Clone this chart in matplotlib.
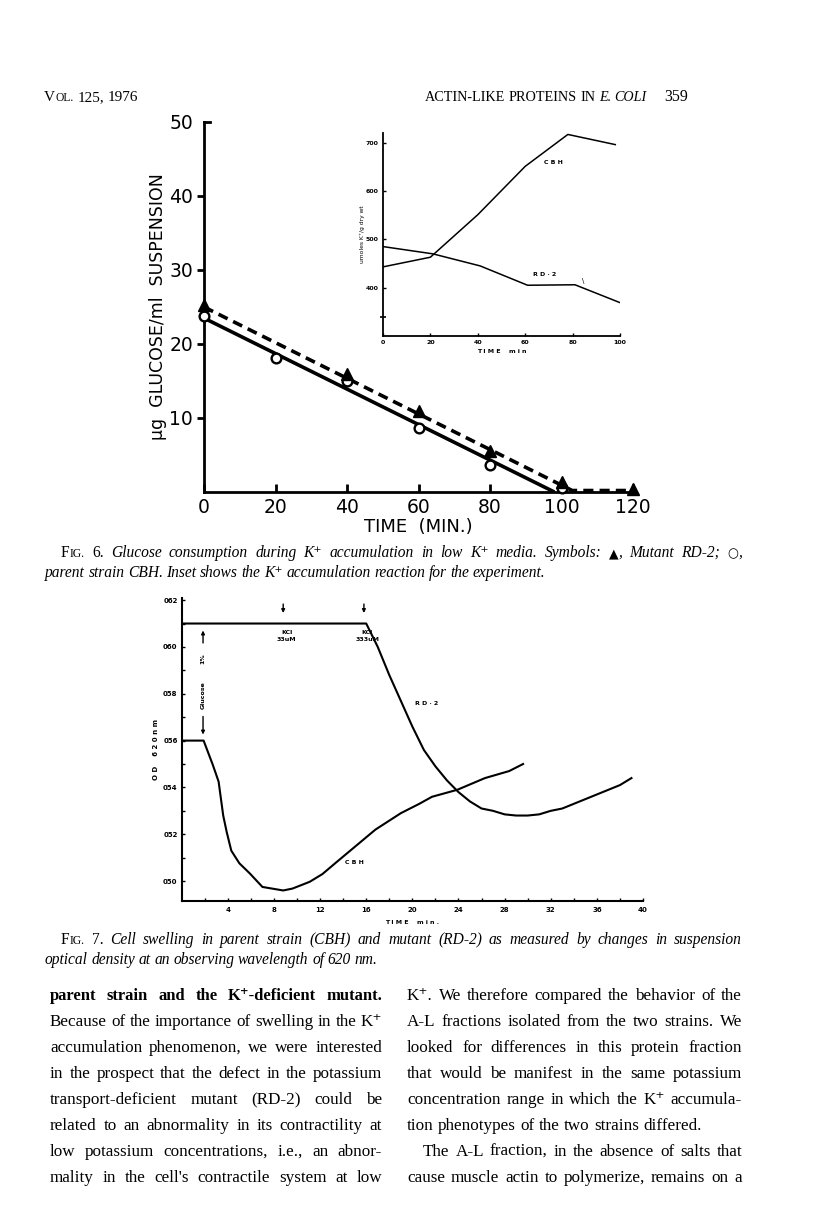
import matplotlib

matplotlib.use("Agg")
import matplotlib.pyplot as plt

W, H = 816, 1229

# Fig. 6: glucose left in suspension (ug/ml) vs time (min)
glc_time_rd2 = [0, 40, 60, 80, 100, 120]
glc_rd2 = [25.3, 16.0, 10.9, 5.5, 1.4, 0.4]
glc_time_cbh = [0, 20, 40, 60, 80, 100]
glc_cbh = [23.8, 18.1, 15.0, 8.7, 3.6, 0.5]
fit_time_rd2 = [0, 103, 120]
fit_rd2 = [25.0, 0.2, 0.2]
fit_time_cbh = [0, 98]
fit_cbh = [23.5, 0.0]

# Fig. 6 inset: K+ accumulation (umoles K+/g dry wt)
ins_time_cbh = [0, 20, 40, 60, 78, 98]
ins_cbh = [443, 463, 551, 651, 717, 696]
ins_time_rd2 = [0, 21, 41, 61, 81, 100]
ins_rd2 = [485, 470, 445, 405, 406, 369]

# Fig. 7: OD 620 nm vs time (min)
od_time_rd2 = [0, 16, 17, 18, 19, 20, 21, 22, 23, 24, 25, 26, 27, 28, 29, 30,
               31, 32, 33, 34, 35, 36, 37, 38, 39]
od_rd2 = [0.0610, 0.0610, 0.0600, 0.0588, 0.0577, 0.0566, 0.0556, 0.0549,
          0.0543, 0.0538, 0.0534, 0.0531, 0.0530, 0.05285, 0.0528, 0.0528,
          0.05285, 0.0530, 0.0531, 0.0533, 0.0535, 0.0537, 0.0539, 0.0541,
          0.0544]
od_time_cbh = [0, 1.9, 2.7, 3.2, 3.6, 3.9, 4.3, 5.0, 5.9, 7.0, 8.8, 9.6, 11.1,
               12.2, 13.4, 15.1, 16.8, 19.0, 20.6, 21.7, 23.9, 26.3, 28.4, 29.6]
od_cbh = [0.0560, 0.0560, 0.05496, 0.05425, 0.0528, 0.0521, 0.0513, 0.05076,
          0.05033, 0.04975, 0.0496, 0.04968, 0.04997, 0.0503, 0.0508, 0.0515,
          0.0522, 0.0529, 0.0533, 0.0536, 0.0539, 0.0544, 0.0547, 0.0550]
od_ticks = [0.050, 0.052, 0.054, 0.056, 0.058, 0.060, 0.062]
od_ticklabels = ["050", "052", "054", "056", "058", "060", "062"]
kcl_time = [8.8, 15.8]
kcl_labels = ["KCl\n33uM", "KCl\n333uM"]
glucose_time = 1.85

SERIF = ["Liberation Serif", "DejaVu Serif", "DejaVu Sans"]
SANS = ["DejaVu Sans"]

fig = plt.figure(figsize=(W / 100, H / 100), dpi=100)
renderer = fig.canvas.get_renderer()


def rect(left, top, right, bottom):
    return [left / W, 1 - bottom / H, (right - left) / W, (bottom - top) / H]


def put_line(words, x0, y, x1=None, gap=None):
    """Place words (lists of (text, style) runs) on one line; justify to x1 if given."""
    placed = []
    for word in words:
        runs = []
        for s, kw in word:
            t = fig.text(0, 1 - y / H, s, va="baseline", ha="left", **kw)
            runs.append((t, t.get_window_extent(renderer).width))
        placed.append(runs)
    widths = [sum(w for _, w in runs) for runs in placed]
    if x1 is not None and len(words) > 1:
        gap = (x1 - x0 - sum(widths)) / (len(words) - 1)
    x = x0
    for runs, wd in zip(placed, widths):
        xx = x
        for t, w in runs:
            t.set_x(xx / W)
            xx += w
        x += wd + gap
    return x - gap


def words_of(text, kw):
    return [[(w, kw)] for w in text.split()]


# ---------------- page header ----------------
hdr = dict(family=SERIF, fontsize=11)
hdr_sc = dict(family=SERIF, fontsize=8.3)
hdr_r = dict(family=SERIF, fontsize=10.2)
hdr_it = dict(family=SERIF, fontsize=10.2, style="italic")
put_line([[("V", hdr), ("OL.", hdr_sc)], [("125,", hdr)], [("1976", hdr)]], 44, 101, gap=4)
put_line(words_of("ACTIN-LIKE PROTEINS IN", hdr_r) + words_of("E. COLI", hdr_it), 425, 101, gap=3.5)
fig.text(688 / W, 1 - 101 / H, "359", family=SERIF, fontsize=11.5, ha="right", va="baseline")

# ---------------- Fig. 6 ----------------
ax = fig.add_axes(rect(204, 122, 633, 492))
ax.plot(fit_time_cbh, fit_cbh, color="black", lw=2.6, solid_capstyle="butt")
ax.plot(fit_time_rd2, fit_rd2, color="black", lw=2.6, ls=(0, (2.8, 1.7)))
ax.plot(glc_time_cbh, glc_cbh, ls="none", marker="o", ms=7, mfc="white",
        mec="black", mew=1.7, clip_on=False, zorder=4)
ax.plot(glc_time_rd2, glc_rd2, ls="none", marker="^", ms=8.5, color="black",
        clip_on=False, zorder=4)
ax.set_xlim(0, 120)
ax.set_ylim(0, 50)
for side in ("top", "right"):
    ax.spines[side].set_visible(False)
for side in ("left", "bottom"):
    ax.spines[side].set_linewidth(2.0)
ax.set_xticks(range(0, 121, 20))
ax.set_yticks([10, 20, 30, 40, 50])
ax.tick_params(axis="x", direction="in", length=6, width=2, pad=4, labelsize=13.5)
ax.tick_params(axis="y", direction="out", length=5, width=2, pad=3, labelsize=13.5)
ax.yaxis.get_major_ticks()[-1].tick1line.set_visible(False)
ax.plot([0, 1.6], [50, 50], color="black", lw=2, clip_on=False)
for lab in ax.get_xticklabels() + ax.get_yticklabels():
    lab.set_family(SANS)
ax.set_xlabel("TIME  (MIN.)", fontsize=13, family=SANS, labelpad=1)
ax.set_ylabel("μg  GLUCOSE/ml  SUSPENSION", fontsize=12.5, family=SANS, labelpad=1.5)

# inset
ins = fig.add_axes(rect(383, 133, 620, 336))
ins.plot(ins_time_cbh, ins_cbh, color="black", lw=1.1)
ins.plot(ins_time_rd2, ins_rd2, color="black", lw=1.1)
ins.set_xlim(0, 100)
ins.set_ylim(300, 720)
for side in ("top", "right"):
    ins.spines[side].set_visible(False)
for side in ("left", "bottom"):
    ins.spines[side].set_linewidth(1.3)
ins.set_xticks(range(0, 101, 20))
ins.set_yticks([400, 500, 600, 700])
ins.set_yticks([340], minor=True)
ins.tick_params(which="both", direction="in", length=2.5, width=1, pad=3, labelsize=4.5)
ins.tick_params(axis="y", which="minor", direction="inout", length=5, width=1.2)
for lab in ins.get_xticklabels() + ins.get_yticklabels():
    lab.set_family(SANS)
    lab.set_weight("bold")
ins.set_xlabel("T I M E    m i n", fontsize=4.5, weight="bold", family=SANS, labelpad=3)
ins.set_ylabel("umoles K⁺/g dry wt", fontsize=4.3, family=SANS, labelpad=0.5)
ins.text(72, 660, "C B H", fontsize=4.5, weight="bold", family=SANS, ha="center", va="center")
ins.text(68, 427, "R D · 2", fontsize=4.5, weight="bold", family=SANS, ha="center", va="center")
ins.text(84.5, 414, "\\", fontsize=5, family=SANS, ha="center", va="center")

# caption 6
cap = dict(family=SERIF, fontsize=11.2, style="italic")
cap_rm = dict(family=SERIF, fontsize=11.2)
cap_sc = dict(family=SERIF, fontsize=8.4)
line1 = ([[("F", cap_rm), ("IG.", cap_sc)], [("6.", cap_rm)]]
         + words_of("Glucose consumption during K⁺ accumulation in low K⁺ media. Symbols:", cap)
         + [[("▲", dict(family=SANS, fontsize=9)), (",", cap)]]
         + words_of("Mutant RD-2;", cap)
         + [[("○", dict(family=SANS, fontsize=9)), (",", cap)]])
put_line(line1, 61, 557, x1=742)
put_line(words_of("parent strain CBH. Inset shows the K⁺ accumulation reaction for the experiment.", cap),
         45, 577, gap=3.6)

# ---------------- Fig. 7 ----------------
bx = fig.add_axes(rect(181.7, 598, 643, 901))
bx.plot(od_time_rd2, od_rd2, color="black", lw=1.5)
bx.plot(od_time_cbh, od_cbh, color="black", lw=1.5)
bx.set_xlim(0, 40)
bx.set_ylim(0.04915, 0.06209)
for side in ("top", "right"):
    bx.spines[side].set_visible(False)
for side in ("left", "bottom"):
    bx.spines[side].set_linewidth(1.5)
bx.set_xticks(range(4, 41, 4))
bx.set_xticks(range(2, 40, 4), minor=True)
bx.set_yticks(od_ticks)
bx.set_yticklabels(od_ticklabels)
bx.set_yticks([0.051, 0.053, 0.055, 0.057, 0.059, 0.061], minor=True)
bx.tick_params(which="both", direction="in", length=2.5, width=1, labelsize=5)
bx.tick_params(axis="y", pad=3)
bx.tick_params(axis="x", pad=4)
for lab in bx.get_xticklabels() + bx.get_yticklabels():
    lab.set_family(SANS)
    lab.set_weight("bold")
bx.set_xlabel("T I M E    m i n .", fontsize=4.5, weight="bold", family=SANS, labelpad=5)
bx.set_ylabel("O D    6 2 0 n m", fontsize=5, weight="bold", family=SANS, labelpad=2.5)
for t, lab in zip(kcl_time, kcl_labels):
    bx.annotate("", xy=(t, 0.06133), xytext=(t, 0.06195),
                arrowprops=dict(arrowstyle="-|>", color="black", lw=1, mutation_scale=5))
    bx.text(t + 0.3, 0.06047, lab, fontsize=4.5, weight="bold", family=SANS,
            ha="center", va="center", linespacing=1.3)
bx.annotate("", xy=(glucose_time, 0.06082), xytext=(glucose_time, 0.06005),
            arrowprops=dict(arrowstyle="-|>", color="black", lw=1, mutation_scale=5))
bx.annotate("", xy=(glucose_time, 0.05614), xytext=(glucose_time, 0.05715),
            arrowprops=dict(arrowstyle="-|>", color="black", lw=1, mutation_scale=5))
bx.text(glucose_time, 0.05952, "1%", rotation=90, fontsize=4.5, weight="bold",
        family=SANS, ha="center", va="center")
bx.text(glucose_time, 0.05795, "Glucose", rotation=90, fontsize=4.5, weight="bold",
        family=SANS, ha="center", va="center")
bx.text(21.2, 0.0576, "R D · 2", fontsize=4.5, weight="bold", family=SANS, ha="center", va="center")
bx.text(15.0, 0.0508, "C B H", fontsize=4.5, weight="bold", family=SANS, ha="center", va="center")

# caption 7
line1 = ([[("F", cap_rm), ("IG.", cap_sc)], [("7.", cap_rm)]]
         + words_of("Cell swelling in parent strain (CBH) and mutant (RD-2) as measured by changes in suspension", cap))
put_line(line1, 61, 944, x1=742)
put_line(words_of("optical density at an observing wavelength of 620 nm.", cap), 45, 964, gap=3.6)

# ---------------- body text ----------------
body = dict(family=SERIF, fontsize=12.3)
body_b = dict(family=SERIF, fontsize=12.0, weight="bold")
left_col = [
    "Because of the importance of swelling in the K⁺",
    "accumulation phenomenon, we were interested",
    "in the prospect that the defect in the potassium",
    "transport-deficient mutant (RD-2) could be",
    "related to an abnormality in its contractility at",
    "low potassium concentrations, i.e., an abnor-",
    "mality in the cell's contractile system at low",
]
right_col = [
    "K⁺. We therefore compared the behavior of the",
    "A-L fractions isolated from the two strains. We",
    "looked for differences in this protein fraction",
    "that would be manifest in the same potassium",
    "concentration range in which the K⁺ accumula-",
    "tion phenotypes of the two strains differed.",
    "The A-L fraction, in the absence of salts that",
    "cause muscle actin to polymerize, remains on a",
]
y0, dy = 1000, 26
put_line(words_of("parent strain and the K⁺-deficient mutant.", body_b), 50, y0, x1=382)
for i, s in enumerate(left_col, start=1):
    put_line(words_of(s, body), 50, y0 + i * dy, x1=382)
for i, s in enumerate(right_col):
    yy = y0 + i * dy
    if i == 5:
        put_line(words_of(s, body), 407, yy, gap=4.3)
    elif i == 6:
        put_line(words_of(s, body), 423, yy, x1=742)
    else:
        put_line(words_of(s, body), 407, yy, x1=742)

fig.savefig("out.png", dpi=100)
